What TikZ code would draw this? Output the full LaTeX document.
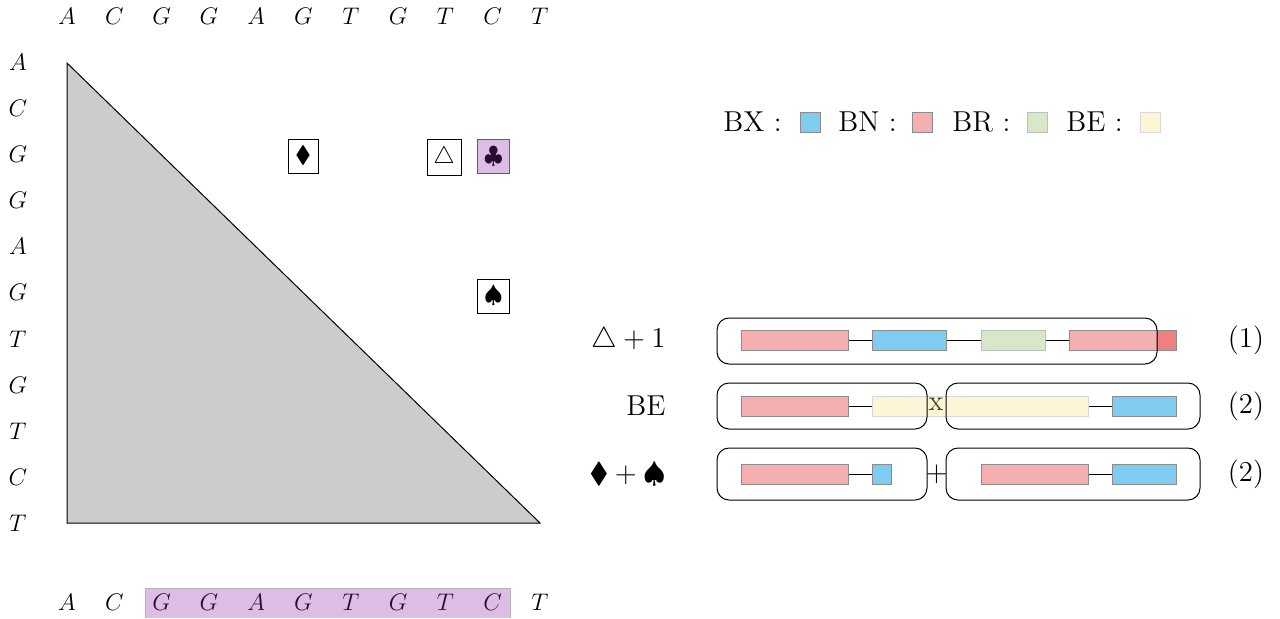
\documentclass[tikz,border=0pt]{standalone}
\usepackage{amssymb}
\usetikzlibrary{fit}

\definecolor{bxblue}{RGB}{128,204,240}
\definecolor{bnpink}{RGB}{244,176,176}
\definecolor{bnred}{RGB}{239,128,128}
\definecolor{brgreen}{RGB}{214,232,200}
\definecolor{beyellow}{RGB}{248,225,118}
\definecolor{hlviolet}{RGB}{138,35,162}

\tikzset{
  base/.style={inner sep=0pt, font=\large, text height=1.5ex, text depth=0pt},
  seg/.style={draw=black!45, line width=0.5pt, inner sep=0pt},
  yseg/.style={draw=black!15, line width=0.5pt, inner sep=0pt, fill=beyellow, fill opacity=0.3},
  frame/.style={draw, line width=0.5pt, rounded corners=6pt, inner sep=0pt},
  link/.style={black, line width=0.5pt},
  symbox/.style={draw, line width=0.5pt, inner sep=0pt, minimum width=16pt, minimum height=17pt, font=\large},
  big/.style={font=\Large, inner sep=0pt},
}

% bar from x1 to x2 centred on row y
\newcommand\segbar[5]{\node[seg, fill=#5, fit={(#2,#4-10) (#3,#4+10)}] (#1) {};}

\begin{document}
\begin{tikzpicture}[x=0.5pt,y=-0.5pt]
\useasboundingbox (0,0) rectangle (1280,618);

% ---------- dot-plot triangle ----------
\draw[fill=black!20, line width=0.5pt] (67,63) -- (67,523) -- (540,523) -- cycle;

\foreach \l [count=\i from 0] in {A,C,G,G,A,G,T,G,T,C,T} {
  \node[base] (top\i) at (67+47.3*\i,18) {$\l$};
  \node[base] (left\i) at (18,64+46.1*\i) {$\l$};
  \node[base] (bot\i) at (67+47.3*\i,604) {$\l$};
}

% highlighted stretch of the bottom sequence
\fill[hlviolet, fill opacity=0.3] (145,588) rectangle (510,618);
\draw[black!30, line width=0.5pt] (145,618) -- (145,588) -- (510,588) -- (510,618);

% marked cells
\node[symbox, minimum width=15pt] (dia) at (303,156) {$\blacklozenge$};
\node[symbox, minimum width=17pt, minimum height=18pt] (tri) at (444,157) {$\triangle$};
\node[symbox, draw=black!60] (clb) at (493.5,156.5) {$\clubsuit$};
\fill[hlviolet, fill opacity=0.3] (clb.south west) rectangle (clb.north east);
\node[symbox] (spd) at (493.5,296) {$\spadesuit$};

% ---------- legend ----------
\node[big, anchor=west] (lbx) at (723,122) {BX :};
\node[seg, fill=bxblue, minimum size=10pt] (kbx) at (810,122) {};
\node[big, anchor=west] (lbn) at (838,122) {BN :};
\node[seg, fill=bnpink, minimum size=10pt] (kbn) at (922,122) {};
\node[big, anchor=west] (lbr) at (952,122) {BR :};
\node[seg, fill=brgreen, draw=black!25, minimum size=10pt] (kbr) at (1037,122) {};
\node[big, anchor=west] (lbe) at (1066,122) {BE :};
\node[yseg, minimum size=10pt] (kbe) at (1150.5,122) {};

% ---------- row 1 ----------
\node[big, anchor=east] (r1) at (666,340) {$\triangle + 1$};
\segbar{a1}{741}{848}{340}{bnpink}
\segbar{a2}{872}{946}{340}{bxblue}
\node[seg, draw=black!25, fill=brgreen, fit={(981,330) (1045,350)}] (a3) {};
\segbar{a4}{1069}{1157}{340}{bnpink}
\segbar{a5}{1157}{1176}{340}{bnred}
\draw[link] (a1) -- (a2);
\draw[link] (a2) -- (a3);
\draw[link] (a3) -- (a4);
\node[frame, fit={(717,318) (1157,364)}] (f1) {};
\node[big] (n1) at (1246,340) {(1)};

% ---------- row 2 ----------
\node[big, anchor=east] (r2) at (666,406) {BE};
\segbar{b1}{741}{848}{406}{bnpink}
\node[big] (bx) at (936,404) {x};
\node[yseg, fit={(872,396) (1088,416)}] (b2) {};
\segbar{b3}{1112}{1176}{406}{bxblue}
\draw[link] (b1) -- (b2);
\draw[link] (b2) -- (b3);
\node[frame, fit={(717,383) (927,429)}] (g1) {};
\node[frame, fit={(946,383) (1200,429)}] (g2) {};
\node[big] (n2) at (1246,406) {(2)};

% ---------- row 3 ----------
\node[big, anchor=east] (r3) at (666,474) {$\blacklozenge + \spadesuit$};
\segbar{c1}{741}{848}{474}{bnpink}
\segbar{c2}{872}{891}{474}{bxblue}
\segbar{c3}{981}{1088}{474}{bnpink}
\segbar{c4}{1112}{1176}{474}{bxblue}
\draw[link] (c1) -- (c2);
\draw[link] (c3) -- (c4);
\node[frame, fit={(717,448) (927,500)}] (h1) {};
\node[frame, fit={(946,448) (1200,500)}] (h2) {};
\node[big] (pl) at (936.5,474) {$+$};
\node[big] (n3) at (1246,474) {(2)};
\end{tikzpicture}
\end{document}
